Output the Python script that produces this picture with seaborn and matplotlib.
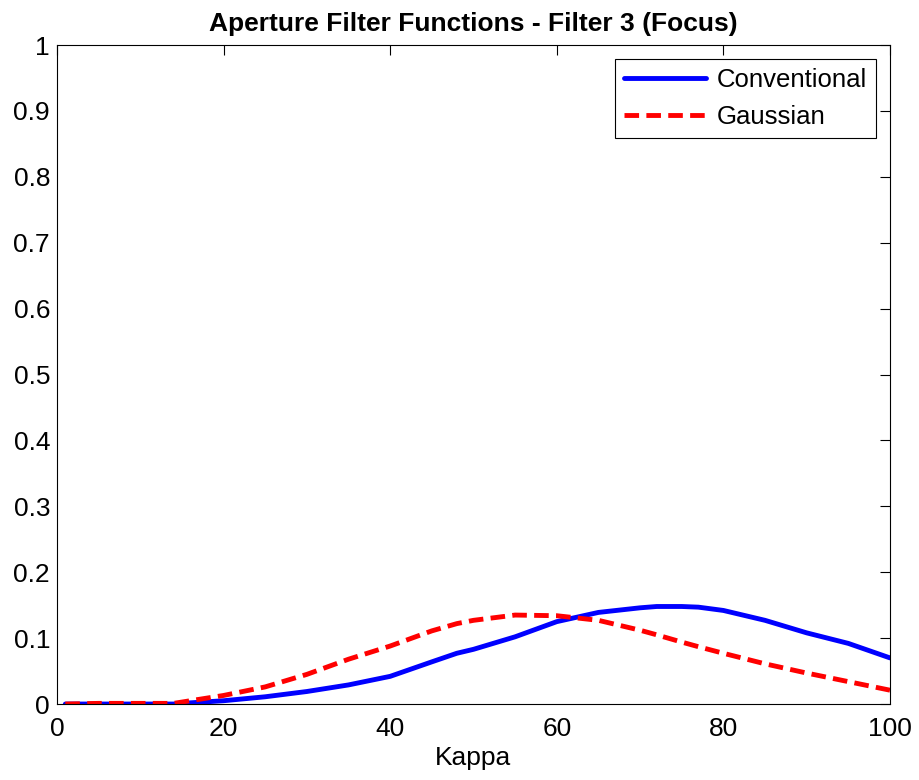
import matplotlib
matplotlib.use("Agg")
import matplotlib.pyplot as plt
import seaborn as sns
import pandas as pd
import numpy as np

kappa = [1, 5, 10, 14, 15, 20, 25, 30, 35, 40, 45, 48, 50, 55, 60, 65, 70, 72, 75, 77, 80, 85, 90, 95, 100]
conventional = [0.0, 0.0, 0.0, 0.0, 0.001, 0.005, 0.011, 0.019, 0.029, 0.042, 0.064, 0.077, 0.083, 0.102, 0.125, 0.139, 0.146, 0.148, 0.148, 0.147, 0.142, 0.127, 0.108, 0.092, 0.070]
gaussian = [0.0, 0.001, 0.001, 0.001, 0.003, 0.013, 0.026, 0.045, 0.068, 0.088, 0.111, 0.122, 0.127, 0.135, 0.134, 0.127, 0.112, 0.105, 0.094, 0.087, 0.077, 0.061, 0.047, 0.034, 0.021]
series_names = ["Conventional", "Gaussian"]

df = pd.concat([
    pd.DataFrame({"Kappa": kappa, "value": conventional, "series": series_names[0]}),
    pd.DataFrame({"Kappa": kappa, "value": gaussian, "series": series_names[1]}),
])

sns.set_style("white")
plt.rcParams["font.family"] = ["Liberation Sans", "DejaVu Sans"]
plt.rcParams["text.color"] = "black"
plt.rcParams["axes.labelcolor"] = "black"

fig = plt.figure(figsize=(9.19, 7.8), dpi=100)
ax = fig.add_axes([0.062, 0.0974, 0.9064, 0.8449])

sns.lineplot(data=df, x="Kappa", y="value", hue="series", style="series",
             palette={"Conventional": "#0000ff", "Gaussian": "#ff0000"},
             dashes={"Conventional": "", "Gaussian": (3, 1.5)},
             linewidth=3.5, ax=ax)

ax.set_xlim(0, 100)
ax.set_ylim(0, 1)
ax.set_xticks(np.arange(0, 101, 20))
ax.set_yticks(np.round(np.arange(0, 1.01, 0.1), 1))
ax.set_yticklabels(["0"] + [f"{v:.1f}" for v in np.arange(0.1, 0.95, 0.1)] + ["1"])
ax.tick_params(direction="in", top=True, right=True, length=7, width=0.8,
               labelsize=19, colors="black", pad=5)
ax.tick_params(axis="x", pad=9)
for s in ax.spines.values():
    s.set_color("black")
    s.set_linewidth(0.8)
ax.set_xlabel("Kappa", fontsize=19, labelpad=4, color="black")
ax.set_ylabel("")
ax.set_title("Aperture Filter Functions - Filter 3 (Focus)", fontsize=19,
             fontweight="bold", pad=10, color="black")

leg = ax.legend(title=None, loc="upper right", fontsize=18.5, frameon=True, fancybox=False,
                edgecolor="black", handlelength=3.2, handletextpad=0.4,
                borderaxespad=0.55, borderpad=0.35, labelspacing=0.5)
leg.get_frame().set_linewidth(0.8)
leg.get_frame().set_alpha(1)
for t in leg.get_texts():
    t.set_color("black")

fig.savefig("out.png", dpi=100)
